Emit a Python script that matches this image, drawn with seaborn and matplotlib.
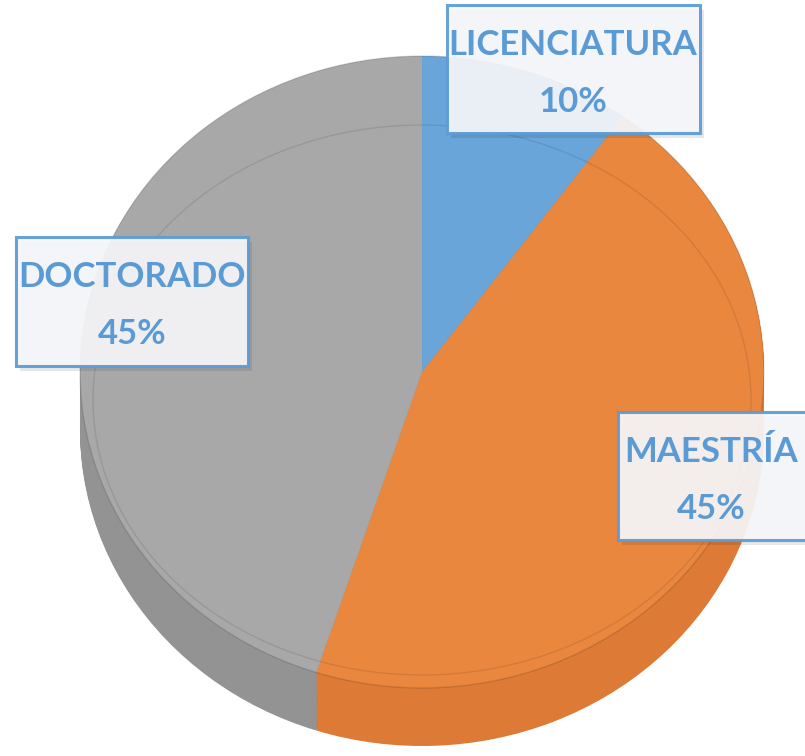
import matplotlib
matplotlib.use("Agg")
import matplotlib.pyplot as plt
import seaborn as sns
import numpy as np
from matplotlib.patches import Rectangle, Ellipse

sns.set_theme(style="white")
plt.rcParams['font.family'] = ['Lato', 'DejaVu Sans']

# data
categories = ["LICENCIATURA", "MAESTRÍA", "DOCTORADO"]
values = [10, 45, 45]
pct_labels = ["10%", "45%", "45%"]

top_colors = ["#6AA5DA", "#E9873F", "#A8A8A8"]
side_colors = ["#5A8FC2", "#DC7A36", "#939393"]

W, H = 805, 756
fig = plt.figure(figsize=(W / 100, H / 100), dpi=100)

# geometry in pixels
cx, cy = 422, 372
rx, ry = 342, 316
depth = 58

ax = fig.add_axes([0, 0, 1, 1])
ax.axis('off')

d = depth / ry
n_layers = 40
for k in np.linspace(d, 0.002, n_layers):
    ax.pie(values, colors=side_colors, startangle=90, counterclock=False,
           center=(0, -k), radius=1, wedgeprops=dict(edgecolor='none', linewidth=0),
           frame=False)

wedges, _ = ax.pie(values, colors=top_colors, startangle=90, counterclock=False,
                   center=(0, 0), radius=1,
                   wedgeprops=dict(edgecolor='none', linewidth=0), frame=False)

# rim outline and faint bevel line
ax.add_patch(Ellipse((0, 0), 2, 2, fill=False, edgecolor='#00000020', lw=1.0))
ax.add_patch(Ellipse((0, -28 / ry), 2 * 329 / rx, 2 * 275 / ry, fill=False,
                     edgecolor='#00000018', lw=1.0))
ax.set_aspect('auto')
ax.set_position([0, 0, 1, 1])
ax.set_xlim(-cx / rx, (W - cx) / rx)
ax.set_ylim(-(H - cy) / ry, cy / ry)

# overlay axes in pixel coordinates for labels
ov = fig.add_axes([0, 0, 1, 1])
ov.set_xlim(0, W)
ov.set_ylim(H, 0)
ov.axis('off')
ov.patch.set_alpha(0)

boxes = [(447, 5, 253, 128), (618, 412, 200, 128), (16, 237, 232, 129)]
text_cx = [573, 711, 132]
for (x, y, w, h), cat, pct, tx in zip(boxes, categories, pct_labels, text_cx):
    ov.add_patch(Rectangle((x + 4, y + 5), w, h, facecolor='#00000018', edgecolor='none'))
    ov.add_patch(Rectangle((x, y), w, h, facecolor='#F6F7FA', alpha=0.93,
                           edgecolor='#5B9BD5', lw=2.2))
    ov.text(tx, y + 40, cat, ha='center', va='center', fontsize=25,
            fontweight='bold', color='#5B9BD5')
    ov.text(tx, y + 97, pct, ha='center', va='center', fontsize=25,
            fontweight='bold', color='#5B9BD5')

fig.savefig("out.png", dpi=100)
